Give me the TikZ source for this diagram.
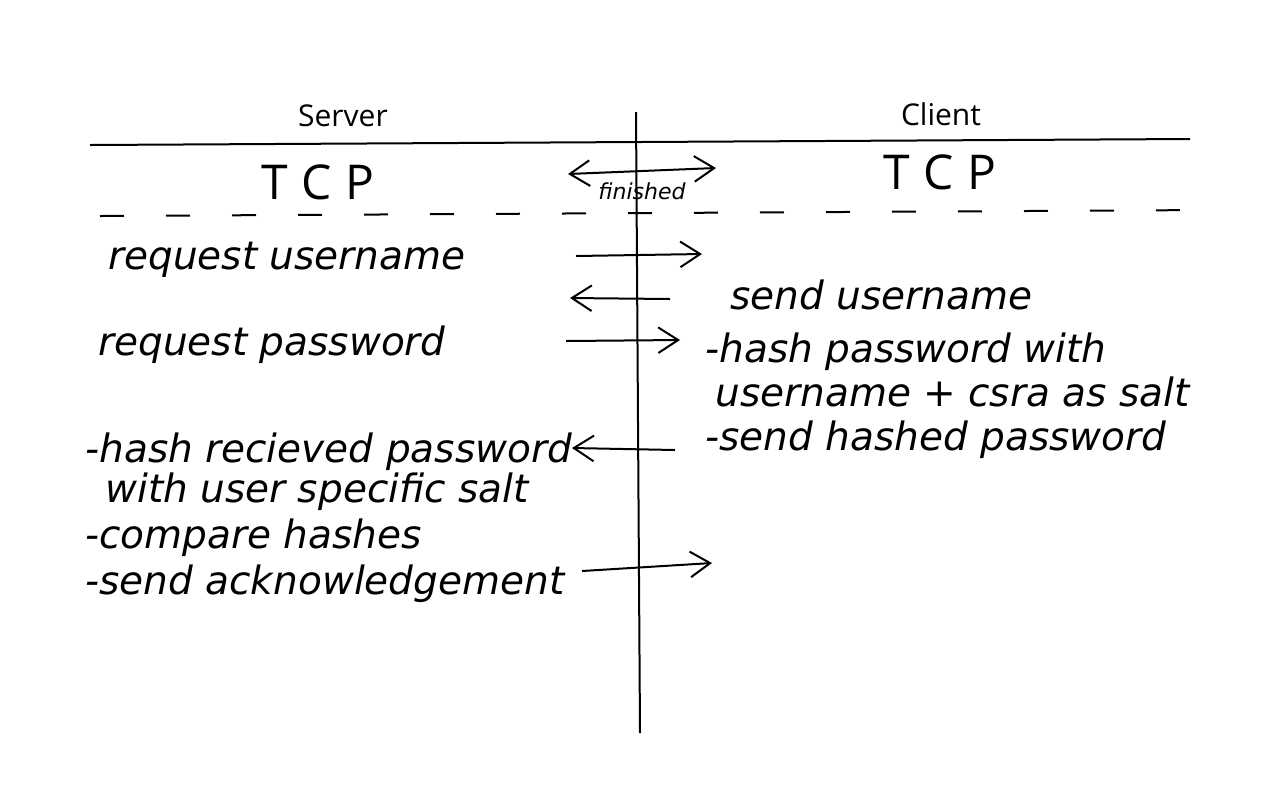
\documentclass[tikz,border=0pt]{standalone}
\usepackage{fontspec}
\setsansfont{Open Sans}
\newfontfamily\handfont{DejaVu Sans}
\usetikzlibrary{arrows.meta, positioning}
\tikzset{
	lane/.style={font=\sffamily\fontsize{15}{18}\selectfont, inner sep=0pt},
	tcpnote/.style={font=\sffamily\fontsize{24}{28}\selectfont, inner sep=0pt},
	hand/.style={font=\handfont\itshape\fontsize{19.5}{23}\selectfont, anchor=west, inner sep=0pt},
	msg/.style={-{Straight Barb[length=3.5mm, width=4.5mm]}, line width=1pt},
	rule/.style={line width=1pt},
}
\newcommand{\spaced}[3]{#1\hspace{7pt}#2\hspace{7pt}#3}
\begin{document}
\begin{tikzpicture}[x=0.5pt, y=-0.5pt]
	\useasboundingbox (0,0) rectangle (1280,800);
	% lanes
	\node[lane] (server) at (343,116) {Server};
	\node[lane] (client) at (941,114) {Client};
	\coordinate (topL) at (90,145);
	\coordinate (topR) at (1190,139);
	\coordinate (midT) at (636,112);
	\coordinate (midB) at (640,733);
	\coordinate (dashL) at (100,216);
	\coordinate (dashR) at (1212,210);
	\draw[rule] (topL) -- (topR);
	\draw[rule] (midT) -- (midB);
	\draw[rule, dash pattern=on 12pt off 21pt] (dashL) -- (dashR);
	% connection setup
	\node[tcpnote] (tcpS) at (318,182) {\spaced TCP};
	\node[tcpnote] (tcpC) at (940,172) {\spaced TCP};
	\coordinate (finL) at (568,174);
	\coordinate (finR) at (716,168);
	\draw[msg, {Straight Barb[length=3.5mm, width=4.5mm]}-{Straight Barb[length=3.5mm, width=4.5mm]}] (finL) -- (finR)
		node[midway, below=2pt, font=\handfont\itshape\fontsize{11}{13}\selectfont] (fin) {finished};
	% server side
	\node[hand] (reqUser) at (108,260) {request username};
	\node[hand] (reqPass) at (98,345) {request password};
	\node[hand] (hashRecv) at (85,452) {-hash recieved password};
	\node[hand] (withUser) at (105,492) {with user specific salt};
	\node[hand] (compare) at (85,538) {-compare hashes};
	\node[hand] (sendAck) at (85,584) {-send acknowledgement};
	% client side
	\node[hand] (sendUser) at (730,295) {send username};
	\node[hand] (hashPass) at (705,352) {-hash password with};
	\node[hand] (userSalt) at (715,392) {username + csra as salt};
	\node[hand] (sendHash) at (705,440) {-send hashed password};
	% messages
	\coordinate (m1a) at (576,256);
	\coordinate (m1b) at (702,254);
	\coordinate (m2a) at (670,299);
	\coordinate (m2b) at (570,298);
	\coordinate (m3a) at (566,341);
	\coordinate (m3b) at (680,340);
	\coordinate (m4a) at (675,450);
	\coordinate (m4b) at (572,448);
	\coordinate (m5a) at (582,571);
	\coordinate (m5b) at (712,563);
	\draw[msg] (m1a) -- (m1b);
	\draw[msg] (m2a) -- (m2b);
	\draw[msg] (m3a) -- (m3b);
	\draw[msg] (m4a) -- (m4b);
	\draw[msg] (m5a) -- (m5b);
\end{tikzpicture}
\end{document}
